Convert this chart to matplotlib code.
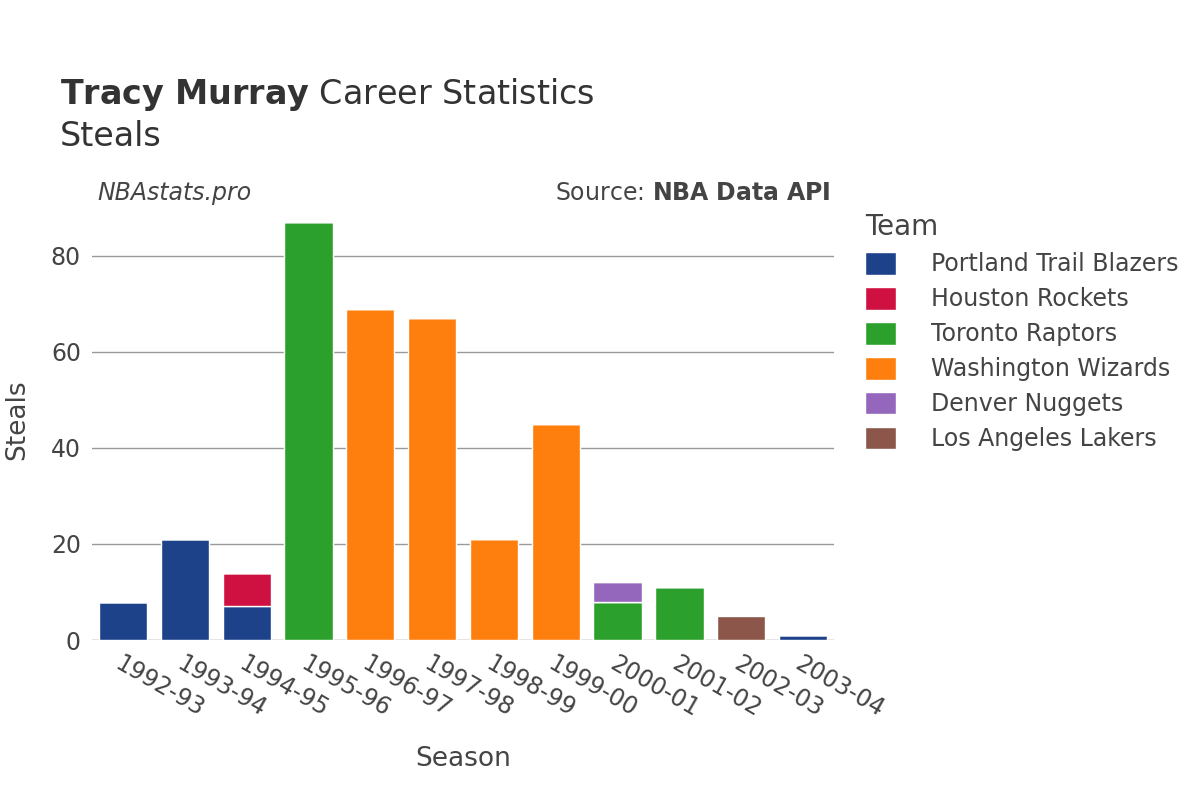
import matplotlib
matplotlib.use("Agg")
import matplotlib.pyplot as plt
import numpy as np

seasons = ["1992-93","1993-94","1994-95","1995-96","1996-97","1997-98","1998-99","1999-00","2000-01","2001-02","2002-03","2003-04"]
teams = ["Portland Trail Blazers","Houston Rockets","Toronto Raptors","Washington Wizards","Denver Nuggets","Los Angeles Lakers"]
colors = ["#1d428a","#ce1141","#2ca02c","#ff7f0e","#9467bd","#8c564b"]
por = [8,21,7,0,0,0,0,0,0,0,0,1]
hou = [0,0,7,0,0,0,0,0,0,0,0,0]
tor = [0,0,0,87,0,0,0,0,8,11,0,0]
was = [0,0,0,0,69,67,21,45,0,0,0,0]
den = [0,0,0,0,0,0,0,0,4,0,0,0]
lal = [0,0,0,0,0,0,0,0,0,0,5,0]
series = [por,hou,tor,was,den,lal]

fig = plt.figure(figsize=(12,8), dpi=100)
ax = fig.add_axes([0.0767,0.2,0.6183,0.55])
x = np.arange(len(seasons))
bottom = np.zeros(len(seasons))
for name,vals,c in zip(teams,series,colors):
    v = np.array(vals,dtype=float)
    ax.bar(x, v, 0.78, bottom=bottom, color=c, label=name, edgecolor="white", linewidth=1, zorder=3)
    bottom += v
ax.set_xlim(-0.5, len(seasons)-0.5)
ax.set_ylim(0, 91.6)
ax.set_yticks([0,20,40,60,80])
ax.grid(axis="y", color="#999999", linewidth=1, zorder=0)
for s in ax.spines.values(): s.set_visible(False)
ax.axhline(0, color="#e5e5e5", lw=2, zorder=2)
ax.tick_params(length=0, labelsize=17, colors="#444444", pad=8)
ax.set_xticks(x)
ax.set_xticklabels(seasons, rotation=-30, ha="left", rotation_mode="anchor")
ax.set_xlabel("Season", fontsize=19, color="#444444", labelpad=18)
ax.set_ylabel("Steals", fontsize=19, color="#444444", labelpad=15)

fig.text(0.05,0.87,r"$\bf{Tracy\ Murray}$ Career Statistics", fontsize=24, color="#333333")
fig.text(0.05,0.818,"Steals", fontsize=24, color="#333333")
fig.text(0.081,0.75,"NBAstats.pro", fontsize=17, style="italic", color="#444444")
fig.text(0.692,0.75,r"Source: $\bf{NBA\ Data\ API}$", fontsize=17, color="#444444", ha="right")

leg = fig.legend(loc="upper left", bbox_to_anchor=(0.703,0.76), frameon=False, fontsize=17,
                 title="Team", title_fontsize=20, handlelength=1.3, handleheight=1.1,
                 labelspacing=0.45, handletextpad=1.5, labelcolor="#444444")
leg._legend_box.align = "left"
leg.get_title().set_color("#444444")
fig.savefig("out.png")
